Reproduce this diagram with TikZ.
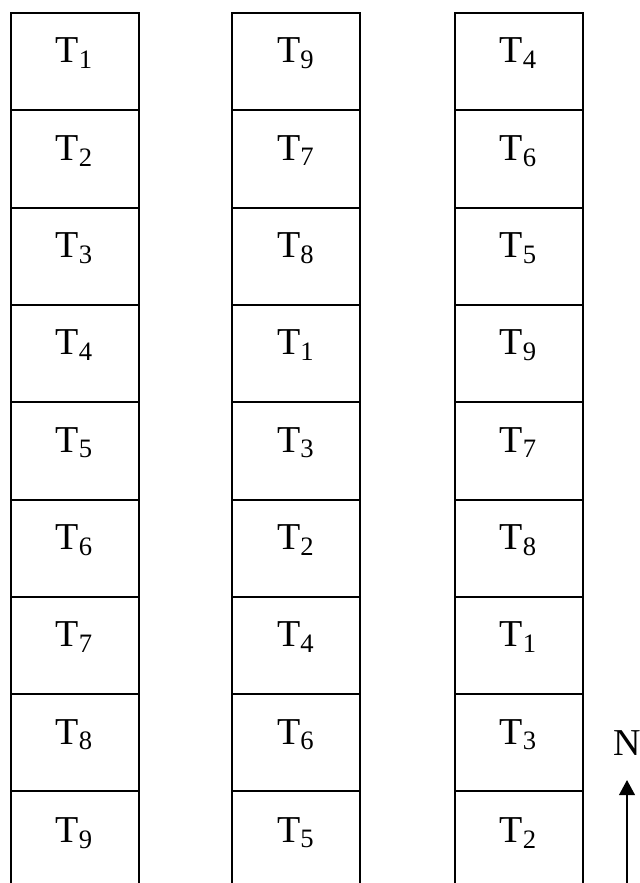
\documentclass[tikz,border=0pt]{standalone}
\usepackage{fontspec}
\setmainfont{Liberation Serif}
\usetikzlibrary{arrows.meta}

\begin{document}
\begin{tikzpicture}[x=0.5pt,y=-0.5pt,plot/.style={draw,line width=1pt,minimum width=64pt,minimum height=48.65pt,inner sep=0pt},blank/.style={minimum width=64pt,minimum height=48.65pt,inner sep=0pt,outer sep=0pt},txt/.style={font=\fontsize{19}{23}\selectfont,anchor=base,inner sep=0pt},treat/.style={txt,yshift=-25.5pt},side/.style={line width=1pt}]
\useasboundingbox (0,0) rectangle (639,883);
\coordinate (bottom) at (0,883);
% column a
\node[plot] (a1) at (74.5,61.65) {};
\node[plot] (a2) at (74.5,158.95) {};
\node[plot] (a3) at (74.5,256.25) {};
\node[plot] (a4) at (74.5,353.55) {};
\node[plot] (a5) at (74.5,450.85) {};
\node[plot] (a6) at (74.5,548.15) {};
\node[plot] (a7) at (74.5,645.45) {};
\node[plot] (a8) at (74.5,742.75) {};
\node[blank] (a9) at (74.5,840.05) {};
\draw[side] (a9.north west) -- (a9.west |- bottom);
\draw[side] (a9.north east) -- (a9.east |- bottom);
\node[treat] (ta1) at (a1.north) {T\textsubscript{1}};
\node[treat] (ta2) at (a2.north) {T\textsubscript{2}};
\node[treat] (ta3) at (a3.north) {T\textsubscript{3}};
\node[treat] (ta4) at (a4.north) {T\textsubscript{4}};
\node[treat] (ta5) at (a5.north) {T\textsubscript{5}};
\node[treat] (ta6) at (a6.north) {T\textsubscript{6}};
\node[treat] (ta7) at (a7.north) {T\textsubscript{7}};
\node[treat] (ta8) at (a8.north) {T\textsubscript{8}};
\node[treat] (ta9) at (a9.north) {T\textsubscript{9}};
% column b
\node[plot] (b1) at (296,61.65) {};
\node[plot] (b2) at (296,158.95) {};
\node[plot] (b3) at (296,256.25) {};
\node[plot] (b4) at (296,353.55) {};
\node[plot] (b5) at (296,450.85) {};
\node[plot] (b6) at (296,548.15) {};
\node[plot] (b7) at (296,645.45) {};
\node[plot] (b8) at (296,742.75) {};
\node[blank] (b9) at (296,840.05) {};
\draw[side] (b9.north west) -- (b9.west |- bottom);
\draw[side] (b9.north east) -- (b9.east |- bottom);
\node[treat] (tb1) at (b1.north) {T\textsubscript{9}};
\node[treat] (tb2) at (b2.north) {T\textsubscript{7}};
\node[treat] (tb3) at (b3.north) {T\textsubscript{8}};
\node[treat] (tb4) at (b4.north) {T\textsubscript{1}};
\node[treat] (tb5) at (b5.north) {T\textsubscript{3}};
\node[treat] (tb6) at (b6.north) {T\textsubscript{2}};
\node[treat] (tb7) at (b7.north) {T\textsubscript{4}};
\node[treat] (tb8) at (b8.north) {T\textsubscript{6}};
\node[treat] (tb9) at (b9.north) {T\textsubscript{5}};
% column c
\node[plot] (c1) at (518.5,61.65) {};
\node[plot] (c2) at (518.5,158.95) {};
\node[plot] (c3) at (518.5,256.25) {};
\node[plot] (c4) at (518.5,353.55) {};
\node[plot] (c5) at (518.5,450.85) {};
\node[plot] (c6) at (518.5,548.15) {};
\node[plot] (c7) at (518.5,645.45) {};
\node[plot] (c8) at (518.5,742.75) {};
\node[blank] (c9) at (518.5,840.05) {};
\draw[side] (c9.north west) -- (c9.west |- bottom);
\draw[side] (c9.north east) -- (c9.east |- bottom);
\node[treat] (tc1) at (c1.north) {T\textsubscript{4}};
\node[treat] (tc2) at (c2.north) {T\textsubscript{6}};
\node[treat] (tc3) at (c3.north) {T\textsubscript{5}};
\node[treat] (tc4) at (c4.north) {T\textsubscript{9}};
\node[treat] (tc5) at (c5.north) {T\textsubscript{7}};
\node[treat] (tc6) at (c6.north) {T\textsubscript{8}};
\node[treat] (tc7) at (c7.north) {T\textsubscript{1}};
\node[treat] (tc8) at (c8.north) {T\textsubscript{3}};
\node[treat] (tc9) at (c9.north) {T\textsubscript{2}};
% north arrow
\coordinate (tail) at (627,883);
\coordinate (tip) at (627,780);
\draw[side,-{Triangle[length=7.5pt,width=7.8pt]}] (tail) -- (tip);
\node[txt] (north) at (627.5,755) {N};
\end{tikzpicture}
\end{document}
